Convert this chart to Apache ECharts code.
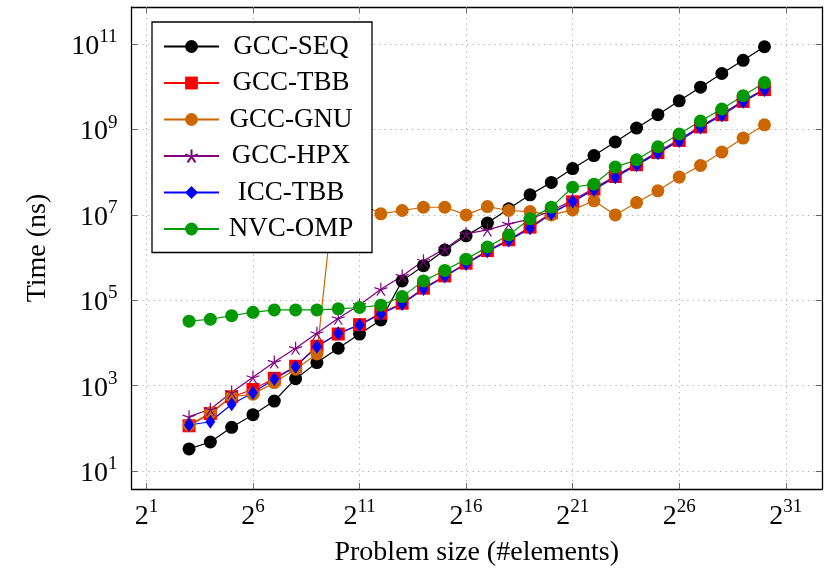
<!DOCTYPE html>
<html>
<head>
<meta charset="utf-8">
<script src="https://cdn.jsdelivr.net/npm/echarts@6/dist/echarts.min.js"></script>
<style>
  html, body { margin: 0; padding: 0; background: #fff; }
  #chart { width: 830px; height: 588px; }
</style>
</head>
<body>
<div id="chart"></div>
<script>
(function () {
  // problem size = 2^exp
  var sizeExp = [3, 4, 5, 6, 7, 8, 9, 10, 11, 12, 13, 14, 15, 16, 17, 18, 19, 20, 21, 22, 23, 24, 25, 26, 27, 28, 29, 30];

  // times in ns
  var gccSeq = [33, 48, 106, 209, 437, 1460, 3470, 7540, 16200, 34700, 2.85e5, 6.46e5, 1.51e6, 3.23e6, 6.45e6, 1.39e7,
    2.96e7, 5.78e7, 1.22e8, 2.45e8, 5.1e8, 1.08e9, 2.23e9, 4.7e9, 9.8e9, 2.05e10, 4.17e10, 8.7e10];
  var gccTbb = [115, 223, 552, 813, 1490, 2850, 8400, 16200, 26900, 50200, 85500, 1.92e5, 3.73e5, 7.41e5, 1.46e6, 2.61e6,
    5.18e6, 1.12e7, 2.03e7, 4.03e7, 7.95e7, 1.5e8, 2.9e8, 5.56e8, 1.15e9, 2.22e9, 4.57e9, 8.6e9];
  var gccGnu = [120, 233, 552, 630, 1180, 2430, 5530, 2.6e8, 1.9e7, 1.06e7, 1.27e7, 1.51e7, 1.51e7, 1.0e7, 1.57e7, 1.27e7,
    1.2e7, 1.0e7, 1.31e7, 2.14e7, 1.0e7, 1.95e7, 3.67e7, 7.7e7, 1.44e8, 2.96e8, 6.3e8, 1.29e9];
  var gccHpx = [188, 280, 700, 1570, 3600, 7540, 16900, 38000, 77600, 1.82e5, 3.73e5, 8.4e5, 1.6e6, 3.6e6, 4.47e6, 6.17e6,
    8.0e6, 1.25e7, 2.2e7, 4.2e7, 8.2e7, 1.55e8, 3.0e8, 5.8e8, 1.2e9, 2.3e9, 4.7e9, 8.9e9];
  var iccTbb = [120, 143, 366, 686, 1440, 2790, 8200, 16900, 26500, 48000, 82000, 1.85e5, 3.6e5, 7.1e5, 1.4e6, 2.5e6,
    4.9e6, 1.07e7, 2.05e7, 3.9e7, 7.6e7, 1.45e8, 2.8e8, 5.4e8, 1.12e9, 2.15e9, 4.45e9, 8.4e9];
  var nvcOmp = [32400, 36000, 43700, 52400, 59500, 59500, 59500, 63000, 67900, 76700, 1.22e5, 2.85e5, 5.01e5, 9.21e5, 1.76e6, 3.38e6,
    8.1e6, 1.52e7, 4.44e7, 5.25e7, 1.32e8, 1.95e8, 3.95e8, 7.85e8, 1.58e9, 3.02e9, 6.2e9, 1.26e10];

  // tick exponents
  var xTickExp = [1, 6, 11, 16, 21, 26, 31];
  var yTickExp = [1, 3, 5, 7, 9, 11];

  var font = 'Liberation Serif';
  var star = 'path://M50 50L50 0M50 50L97.55 34.55M50 50L79.39 90.45M50 50L20.61 90.45M50 50L2.45 34.55';

  function pts(vals) {
    return sizeExp.map(function (e, i) { return [Math.pow(2, e), vals[i]]; });
  }

  function line(name, vals, color, symbol, size) {
    return {
      name: name,
      type: 'line',
      data: pts(vals),
      symbol: symbol,
      symbolSize: size,
      showAllSymbol: true,
      lineStyle: { color: color, width: 1.2 },
      itemStyle: { color: color, borderColor: color, borderWidth: symbol === star ? 1.2 : 0 },
      emphasis: { disabled: true }
    };
  }

  function axis(base, lo, hi, ticks, pos, main, extra) {
    var vals = ticks.map(function (e) { return Math.pow(base, e); });
    var a = {
      type: 'log',
      logBase: base,
      position: pos,
      min: Math.pow(base, lo),
      max: Math.pow(base, hi),
      axisLine: { show: true, lineStyle: { color: '#000', width: 1.3 } },
      axisTick: { show: true, inside: true, length: 6, customValues: vals, lineStyle: { color: '#666', width: 1 } },
      minorTick: { show: false },
      splitLine: { show: main, lineStyle: { color: '#b0b0b0', width: 1, type: [1.3, 4.2] } },
      axisLabel: {
        show: main,
        customValues: vals,
        margin: base === 2 ? 9 : 14,
        formatter: function (v) {
          return '{b|' + (base === 2 ? '2' : '10') + '}{s|' + Math.round(Math.log(v) / Math.log(base)) + '}';
        },
        rich: {
          b: { fontFamily: font, fontSize: 28, color: '#000', verticalAlign: 'bottom' },
          s: { fontFamily: font, fontSize: 19, color: '#000', verticalAlign: 'bottom', padding: [0, 0, 14, 0] }
        }
      }
    };
    for (var k in extra) a[k] = extra[k];
    return a;
  }

  var chart = echarts.init(document.getElementById('chart'), null, { renderer: 'canvas' });
  chart.setOption({
    animation: false,
    grid: { left: 131.5, right: 8, top: 7, bottom: 99 },
    legend: {
      orient: 'vertical',
      left: 152,
      top: 22,
      padding: [11, 14, 10, 11],
      itemWidth: 55,
      itemHeight: 16,
      itemGap: 9.5,
      backgroundColor: '#fff',
      borderColor: '#000',
      borderWidth: 1.3,
      borderRadius: 0,
      formatter: '{n|{name}}',
      textStyle: {
        fontFamily: font, fontSize: 27, color: '#000', lineHeight: 27,
        rich: { n: { width: 134, align: 'center', fontFamily: font, fontSize: 27, lineHeight: 27, color: '#000' } }
      }
    },
    xAxis: [
      axis(2, 0.3, 32.7, xTickExp, 'bottom', true, {
        name: 'Problem size (#elements)', nameLocation: 'middle', nameGap: 50,
        nameTextStyle: { fontFamily: font, fontSize: 28, color: '#000' }
      }),
      axis(2, 0.3, 32.7, xTickExp, 'top', false, {})
    ],
    yAxis: [
      axis(10, 0.58, 11.87, yTickExp, 'left', true, {
        name: 'Time (ns)', nameLocation: 'middle', nameGap: 80,
        nameTextStyle: { fontFamily: font, fontSize: 28, color: '#000' }
      }),
      axis(10, 0.58, 11.87, yTickExp, 'right', false, {})
    ],
    series: [
      line('GCC-SEQ', gccSeq, '#000000', 'circle', 13),
      line('GCC-TBB', gccTbb, '#ff0000', 'rect', 13),
      line('GCC-GNU', gccGnu, '#cc6600', 'circle', 13),
      line('GCC-HPX', gccHpx, '#800080', star, 13),
      line('ICC-TBB', iccTbb, '#0000ff', 'diamond', [10, 14]),
      line('NVC-OMP', nvcOmp, '#009900', 'circle', 13)
    ]
  });
})();
</script>
</body>
</html>
